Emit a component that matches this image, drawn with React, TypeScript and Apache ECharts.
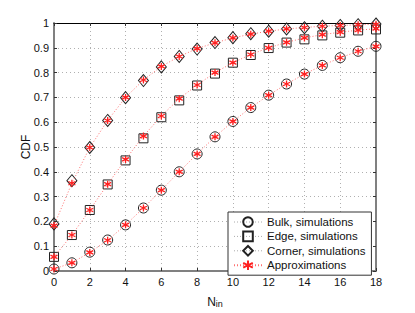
import React, { useEffect, useRef } from "react";
import * as echarts from "echarts";

const nIn = [0, 1, 2, 3, 4, 5, 6, 7, 8, 9, 10, 11, 12, 13, 14, 15, 16, 17, 18];
const bulkSim = [0.008, 0.033, 0.076, 0.125, 0.186, 0.254, 0.326, 0.4, 0.472, 0.541, 0.603, 0.659, 0.709, 0.754, 0.794, 0.829, 0.86, 0.886, 0.906];
const edgeSim = [0.057, 0.145, 0.246, 0.349, 0.446, 0.535, 0.62, 0.688, 0.748, 0.796, 0.84, 0.871, 0.899, 0.921, 0.934, 0.95, 0.961, 0.97, 0.974];
const cornerSim = [0.19, 0.364, 0.498, 0.607, 0.699, 0.768, 0.823, 0.865, 0.895, 0.921, 0.941, 0.957, 0.967, 0.976, 0.981, 0.987, 0.99, 0.993, 0.996];
const bulkApprox = [0.008, 0.033, 0.075, 0.124, 0.186, 0.254, 0.326, 0.4, 0.472, 0.541, 0.603, 0.659, 0.709, 0.754, 0.794, 0.829, 0.86, 0.886, 0.906];
const edgeApprox = [0.057, 0.145, 0.246, 0.35, 0.45, 0.544, 0.625, 0.695, 0.75, 0.8, 0.84, 0.873, 0.9, 0.922, 0.94, 0.953, 0.963, 0.971, 0.977];
const cornerApprox = [0.183, 0.354, 0.498, 0.607, 0.7, 0.77, 0.825, 0.865, 0.897, 0.92, 0.94, 0.955, 0.967, 0.976, 0.982, 0.987, 0.99, 0.993, 0.995];

const NAMES = ["Bulk, simulations", "Edge, simulations", "Corner, simulations", "Approximations"];

const FONT = "'Liberation Sans', Arial, Helvetica, sans-serif";
const STAR = "path://M5,0L5,10M0.67,2.5L9.33,7.5M0.67,7.5L9.33,2.5";

const pairs = (ys: number[]) => nIn.map((x, i) => [x, ys[i]]);

export default function App() {
  const ref = useRef<HTMLDivElement>(null);
  useEffect(() => {
    if (!ref.current) return;
    const chart = echarts.init(ref.current, null, { renderer: "svg" });
    const simStyle = (symbol: string, size: any, data: number[], name: string) => ({
      type: "line",
      name,
      data: pairs(data),
      symbol,
      symbolSize: size,
      showAllSymbol: true,
      lineStyle: { opacity: 0, width: 0 },
      itemStyle: { color: "transparent", borderColor: "#222", borderWidth: 1 },
      z: 2,
    });
    const approx = (data: number[]) => ({
      type: "line",
      name: NAMES[3],
      data: pairs(data),
      symbol: STAR,
      symbolSize: 7,
      showAllSymbol: true,
      lineStyle: { color: "#ff7070", width: 1, type: [1, 2] },
      itemStyle: { color: "#ff2020", borderColor: "#ff2020", borderWidth: 1.3 },
      z: 3,
    });
    const gridLine = { show: true, lineStyle: { color: "#b0b0b0", type: [1, 3], width: 1 } };
    chart.setOption({
      animation: false,
      backgroundColor: "#fff",
      textStyle: { fontFamily: FONT },
      grid: { left: 54, right: 39, top: 23, bottom: 35 },
      xAxis: [
        {
          type: "value",
          min: 0,
          max: 18,
          interval: 2,
          position: "bottom",
          axisLine: { onZero: false, lineStyle: { color: "#808080", width: 2 } },
          axisTick: { inside: true, length: 3, lineStyle: { color: "#333" } },
          axisLabel: { color: "#111", fontSize: 11, margin: 5, fontFamily: FONT },
          splitLine: gridLine,
          name: "{a|N}{b|in}",
          nameLocation: "middle",
          nameGap: 22,
          nameMoveOverlap: false,
          nameTextStyle: {
            rich: {
              a: { fontSize: 12, color: "#111", fontFamily: FONT, verticalAlign: "bottom" },
              b: { fontSize: 9, color: "#111", fontFamily: FONT, padding: [6, 0, 0, 0] },
            },
          },
        },
        {
          type: "value",
          min: 0,
          max: 18,
          interval: 2,
          position: "top",
          axisLine: { onZero: false, lineStyle: { color: "#000", width: 1 } },
          axisTick: { inside: true, length: 3, lineStyle: { color: "#333" } },
          axisLabel: { show: false },
          splitLine: { show: false },
        },
      ],
      yAxis: [
        {
          type: "value",
          min: 0,
          max: 1,
          interval: 0.1,
          position: "left",
          axisLine: { onZero: false, show: true, lineStyle: { color: "#808080", width: 2 } },
          axisTick: { show: true, inside: true, length: 3, lineStyle: { color: "#333" } },
          axisLabel: { color: "#111", fontSize: 11, margin: 5, fontFamily: FONT },
          splitLine: gridLine,
          name: "CDF",
          nameLocation: "middle",
          nameGap: 22,
          nameMoveOverlap: false,
          nameRotate: 90,
          nameTextStyle: { fontSize: 12, color: "#111", fontFamily: FONT },
        },
        {
          type: "value",
          min: 0,
          max: 1,
          interval: 0.1,
          position: "right",
          axisLine: { onZero: false, show: true, lineStyle: { color: "#808080", width: 2 } },
          axisTick: { show: true, inside: true, length: 3, lineStyle: { color: "#333" } },
          axisLabel: { show: false },
          splitLine: { show: false },
        },
      ],
      legend: {
        orient: "vertical",
        left: 228,
        top: 212,
        width: 143,
        padding: [4, 6, 4, 5],
        itemWidth: 28,
        itemHeight: 12,
        itemGap: 2.4,
        itemTextGap: 5,
        backgroundColor: "#fff",
        borderColor: "#333",
        borderWidth: 1,
        borderRadius: 0,
        textStyle: { fontSize: 11.5, color: "#111", fontFamily: FONT },
        data: [
          { name: NAMES[0], lineStyle: { color: "#aaa", type: [1, 2], width: 1, opacity: 1 } },
          { name: NAMES[1], lineStyle: { color: "#aaa", type: [1, 2], width: 1, opacity: 1 } },
          { name: NAMES[2], lineStyle: { color: "#aaa", type: [1, 2], width: 1, opacity: 1 } },
          { name: NAMES[3] },
        ],
      },
      series: [
        simStyle("circle", 10, bulkSim, NAMES[0]),
        simStyle("rect", 9, edgeSim, NAMES[1]),
        simStyle("diamond", [10, 12], cornerSim, NAMES[2]),
        approx(bulkApprox),
        approx(edgeApprox),
        approx(cornerApprox),
      ],
    });
    return () => chart.dispose();
  }, []);
  return (
    <div
      ref={ref}
      style={{ position: "fixed", left: 0, top: 0, width: 415, height: 313, background: "#fff" }}
    />
  );
}
